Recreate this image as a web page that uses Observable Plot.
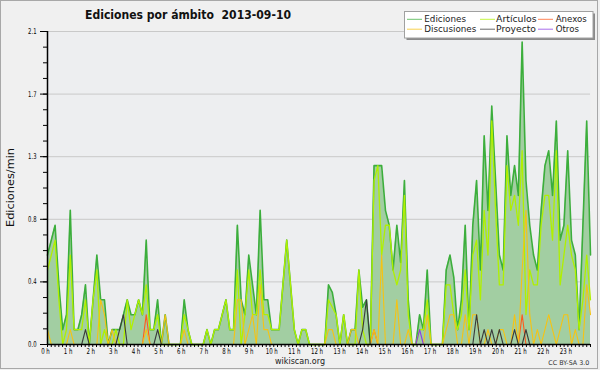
<!DOCTYPE html>
<html><head><meta charset="utf-8">
<script src="https://cdn.jsdelivr.net/npm/d3@7"></script>
<script src="https://cdn.jsdelivr.net/npm/@observablehq/plot@0.6"></script>
<style>
html,body{margin:0;padding:0;background:#f0f0f0;}
#wrap{position:relative;width:600px;height:370px;overflow:hidden;background:#f0f0f0;}
#wrap svg{position:absolute;left:0;top:0;}
</style></head><body><div id="wrap"></div>
<script>
// 10-minute bins, 144 per day, edits per minute
const ediciones = [
0.6,0.7,0.8,0.4,0.1,0.2,0.9,0.1,0.1,0.2,0.4,0,
0.3,0.6,0.3,0.3,0,0.1,0.1,0.1,0.2,0.3,0.2,0.2,
0.3,0.2,0.7,0.1,0.1,0.3,0,0.2,0,0,0,0,
0.3,0.1,0,0,0,0,0.1,0,0.1,0.1,0.2,0.3,
0.1,0.1,0.8,0.3,0.2,0.6,0.4,0.2,0.9,0.3,0.3,0.1,
0.1,0.1,0.4,0.7,0.4,0.1,0,0.1,0.1,0,0,0,
0,0,0.4,0.35,0.2,0,0.2,0,0.1,0.1,0.5,0.25,
0.3,0,1.2,1.2,1.2,0.9,0.8,0.5,0.8,0.55,1.1,0.3,
0,0,0.2,0.1,0.5,0,0,0,0,0.5,0.6,0.45,
0.1,0.3,0.8,0.1,0.8,1.1,0.5,1.4,0.9,1.6,1.1,0.6,
0.5,1.4,1.0,1.2,1.0,2.03,1.1,0.8,0.6,0.5,0.9,1.2,
1.3,1.0,1.5,0.7,0.8,1.3,0.7,0.6,0.1,0.8,1.5,0.6];
const articulos = [
0.5,0.6,0.7,0.3,0,0.1,0.6,0.1,0.1,0.1,0.3,0,
0.3,0.5,0,0.1,0,0,0.1,0,0,0.3,0.1,0.2,
0.3,0.2,0.4,0.1,0.1,0.2,0,0,0,0,0,0,
0.2,0.1,0,0,0,0,0.1,0,0.1,0.1,0.2,0.3,
0.1,0.1,0.5,0,0.2,0.5,0.2,0.2,0.5,0.2,0.2,0.1,
0.1,0.1,0.4,0.7,0.4,0.1,0,0.1,0.1,0,0,0,
0,0,0.3,0.25,0.2,0,0.2,0,0,0,0.5,0.1,
0,0,1.1,1.2,0.6,0.8,0.8,0.5,0.4,0.5,1.0,0.2,
0,0,0.1,0.1,0.3,0,0,0,0,0.4,0.4,0.2,
0.1,0.2,0.5,0.1,0.6,0.7,0.3,0.9,0.6,1.5,0.9,0.4,
0.4,1.2,0.9,1.0,0.8,1.3,0.2,0.5,0.4,0.4,0.8,1.0,
1.0,0.7,1.3,0.4,0.6,0.8,0.6,0.5,0.1,0.3,0.6,0.3];
const anexos = [
0,0,0,0,0,0,0,0,0,0,0,0,
0,0,0,0,0,0,0,0,0,0,0,0,
0,0,0.2,0,0,0,0,0,0,0,0,0,
0,0,0,0,0,0,0,0,0,0,0,0,
0,0,0,0,0,0,0,0,0,0,0,0,
0,0,0,0,0,0,0,0,0,0,0,0,
0,0,0,0,0,0,0,0,0,0,0,0,
0,0,0.1,0,0,0,0,0,0,0,0,0,
0,0,0,0,0,0,0,0,0,0,0,0,
0,0,0,0,0,0,0,0,0,0,0,0,
0,0,0,0,0,0.2,0,0,0,0,0,0,
0,0,0,0,0,0,0,0,0,0,0,0];
const discusiones = [
0.1,0,0,0,0,0,0.1,0,0,0,0,0,
0,0,0.3,0.2,0,0.1,0,0,0,0,0,0,
0,0,0.1,0,0,0,0,0.2,0,0,0,0,
0.1,0,0,0,0,0,0,0,0,0,0,0,
0,0,0.3,0.3,0,0.1,0.2,0,0.4,0.1,0.1,0,
0,0,0,0,0,0,0,0,0,0,0,0,
0,0,0.1,0.1,0,0,0,0,0.1,0.1,0,0,
0,0,0.1,0,0.6,0,0,0,0.3,0,0,0.1,
0,0,0,0,0.2,0,0,0,0,0.1,0.2,0.2,
0,0,0.2,0,0.2,0.2,0,0,0.1,0,0,0.1,
0.1,0,0,0.2,0,0.5,0.9,0.2,0,0.1,0,0.1,
0.2,0.1,0,0.1,0.2,0.2,0,0.1,0,0,0.4,0.2];
const proyecto = [
0,0,0,0,0,0,0,0,0,0,0.1,0,
0,0,0,0,0,0,0,0.1,0.2,0,0,0,
0,0,0,0,0,0.1,0,0,0,0,0,0,
0,0,0,0,0,0,0,0,0,0,0,0,
0,0,0,0,0,0,0,0,0,0,0,0,
0,0,0,0,0,0,0,0,0,0,0,0,
0,0,0,0,0,0,0,0,0,0,0,0.1,
0.3,0,0,0,0,0,0,0,0,0,0,0,
0,0,0,0,0,0,0,0,0,0,0,0,
0,0,0,0,0,0.2,0,0.1,0,0.1,0,0.1,
0,0,0,0.1,0,0,0.1,0,0,0,0,0,
0,0,0,0,0,0,0,0,0,0,0,0];
const otros = [
0,0,0,0,0,0,0,0,0,0,0,0,
0,0,0,0,0,0,0,0,0,0,0,0,
0,0,0,0,0,0,0,0,0,0,0,0,
0,0,0,0,0,0,0,0,0,0,0,0,
0,0,0,0,0,0,0,0,0,0,0,0,
0,0,0,0,0,0,0,0,0,0,0,0,
0,0,0,0,0,0,0,0,0,0,0,0,
0,0,0,0,0,0,0,0,0,0,0,0,
0,0,0.1,0,0,0,0,0,0,0,0,0,
0,0,0,0,0,0,0,0,0,0,0,0,
0,0,0,0,0,0,0,0,0,0,0,0,
0,0,0,0,0,0,0,0,0,0,0,0];
const seriesNames = ["Ediciones","Artículos","Anexos","Discusiones","Proyecto","Otros"];
const hourLabels = d3.range(24).map(h => h + " h");
const yTickValues = [0, 0.42, 0.84, 1.26, 1.68, 2.1];
const titleText = "Ediciones por ámbito  2013-09-10";
const yLabelText = "Ediciones/min";
const siteText = "wikiscan.org";
const licenseText = "CC BY-SA 3.0";

// styles
const colors = {Ediciones:"#3cae3c", "Artículos":"#b0f000", Anexos:"#ff5a1e", Discusiones:"#f5c314", Proyecto:"#3a3a3a", Otros:"#8c3ce6"};
const fillColor = "#a2cea2";
const seriesData = {Ediciones: ediciones, "Artículos": articulos, Anexos: anexos, Discusiones: discusiones, Proyecto: proyecto, Otros: otros};
const widths = {Ediciones:1.6, "Artículos":1.3, Anexos:1.1, Discusiones:1.1, Proyecto:1.1, Otros:1.1};

const N = ediciones.length;               // 144 points spread over the full width
const step = (N - 1) / 144;                // 10-minute axis step in index units
const tenMin = d3.range(145).map(k => k * step);
const hourPos = d3.range(24).map(h => h * 6 * step);
const minorY = d3.range(21).map(k => k * 0.105);
const ix = (d, i) => i, iy = d => d;

const chart = Plot.plot({
  width: 600, height: 370,
  marginTop: 31, marginBottom: 26, marginLeft: 47, marginRight: 10,
  style: {background: "transparent", fontFamily: "DejaVu Sans", fontSize: "8px", color: "#000"},
  x: {domain: [0, N - 1]},
  y: {domain: [0, 2.1]},
  marks: [
    Plot.frame({fill: "#edeef0", stroke: null}),
    Plot.gridY(yTickValues, {stroke: "#c9c9c9", strokeOpacity: 1}),
    Plot.areaY(ediciones, {x: ix, y: iy, fill: fillColor}),
    ...seriesNames.map(n => Plot.lineY(seriesData[n], {x: ix, y: iy, stroke: colors[n], strokeWidth: widths[n]})),
    Plot.axisY(minorY, {tickSize: 4, tickFormat: () => "", label: null}),
    Plot.axisY(yTickValues, {tickSize: 7, tickPadding: 4, tickFormat: d3.format(".1f"), label: null}),
    Plot.axisX(tenMin, {tickSize: 3, tickFormat: () => "", label: null}),
    Plot.axisX(hourPos, {tickSize: 0, tickPadding: 4, dx: -2, label: null,
      tickFormat: d => hourLabels[Math.round(d / (6 * step))]}),
    Plot.ruleY([0], {stroke: "#000", strokeWidth: 1.5}),
    Plot.ruleX([0], {stroke: "#000", strokeWidth: 1.5})
  ]
});
const root = document.getElementById("wrap");
root.appendChild(chart);

function squeeze(sel, s) {
  chart.querySelectorAll(sel).forEach(t => {
    const x = +t.getAttribute("x") || 0, y = +t.getAttribute("y") || 0;
    const tr = t.getAttribute("transform") || "";
    t.setAttribute("transform", `${tr} translate(${x},${y}) scale(${s},1) translate(${-x},${-y})`);
  });
}
squeeze('g[aria-label="y-axis tick label"] text', 0.66);
squeeze('g[aria-label="x-axis tick label"] text', 0.68);

// overlay: title, axis label, legend, footer
const ov = d3.select(root).append("svg").attr("width", 600).attr("height", 370)
  .style("font-family", "DejaVu Sans");
ov.append("rect").attr("x", 0.5).attr("y", 0.5).attr("width", 597).attr("height", 368)
  .attr("fill", "none").attr("stroke", "#a8a8a8");
ov.append("text").attr("x", 85).attr("y", 18.5).attr("font-size", 12.5).attr("font-weight", "bold")
  .style("white-space", "pre").attr("xml:space", "preserve")
  .attr("textLength", 206).attr("lengthAdjust", "spacingAndGlyphs").attr("fill", "#111").text(titleText);
ov.append("text").attr("transform", "translate(13.5,187.5) rotate(-90)").attr("text-anchor", "middle")
  .attr("font-size", 10).attr("textLength", 79).attr("lengthAdjust", "spacingAndGlyphs").attr("fill", "#111").text(yLabelText);
ov.append("text").attr("x", 275).attr("y", 364.3).attr("font-size", 8.5)
  .attr("textLength", 50).attr("lengthAdjust", "spacingAndGlyphs").attr("fill", "#222").text(siteText);
ov.append("text").attr("x", 548.3).attr("y", 365).attr("font-size", 6.5)
  .attr("textLength", 41).attr("lengthAdjust", "spacingAndGlyphs").attr("fill", "#333").text(licenseText);

// legend
const lg = ov.append("g");
lg.append("rect").attr("x", 406.5).attr("y", 13.5).attr("width", 188.5).attr("height", 26.5).attr("fill", "#8a8a8a");
lg.append("rect").attr("x", 404.5).attr("y", 11.5).attr("width", 188.5).attr("height", 26.5).attr("fill", "#fff").attr("stroke", "#a0a0a0");
const colSample = [407, 480, 538], colText = [424.3, 496, 555.7], rowY = [19.3, 29.2];
const textLen = {Ediciones: 41.7, "Artículos": 40.7, Anexos: 31, Discusiones: 52, Proyecto: 40, Otros: 23.3};
seriesNames.forEach((n, k) => {
  const c = k % 3, r = Math.floor(k / 3);
  lg.append("line").attr("x1", colSample[c]).attr("x2", colSample[c] + 15)
    .attr("y1", rowY[r]).attr("y2", rowY[r]).attr("stroke", colors[n]).attr("stroke-width", 1).attr("stroke-opacity", 0.75);
  lg.append("text").attr("x", colText[c]).attr("y", rowY[r] + 3.1).attr("font-size", 8.7)
    .attr("textLength", textLen[n]).attr("lengthAdjust", "spacingAndGlyphs").attr("fill", "#222").text(n);
});
</script></body></html>
